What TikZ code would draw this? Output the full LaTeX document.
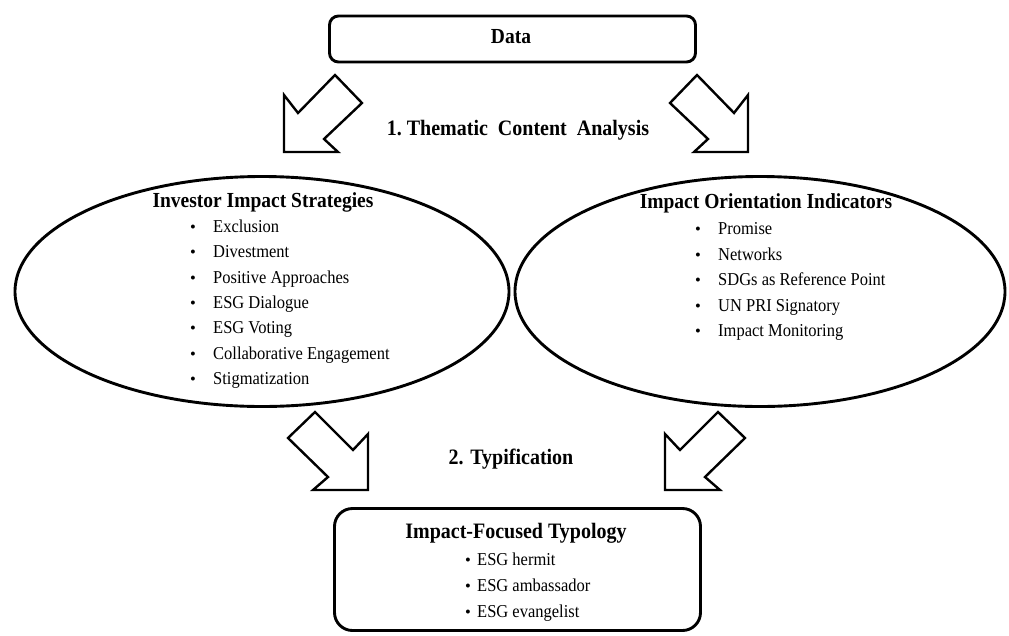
\documentclass[tikz,border=0pt]{standalone}
\usepackage{fontspec}
\setmainfont{Liberation Serif}
\usetikzlibrary{shapes.geometric}
\newcommand{\vstr}[1]{\scalebox{1}[1.1]{#1}}
\begin{document}
\begin{tikzpicture}[x=1pt,y=-1pt,
  ttl/.style={font=\fontsize{19.5}{22}\selectfont\bfseries, inner sep=0pt, anchor=base},
  itm/.style={font=\fontsize{16.5}{19}\selectfont, inner sep=0pt, anchor=base west},
  bul/.style={font=\fontsize{16.5}{19}\selectfont, inner sep=0pt, anchor=base},
  frame/.style={draw, line width=2.9pt, inner sep=0pt},
  blk/.style={draw, line width=2.4pt, line join=miter, fill=white}]
\useasboundingbox (0,0) rectangle (1009,635);

% boxes and ellipses
\node[frame, rounded corners=9pt, minimum width=366pt, minimum height=46pt] (data) at (512.5,39) {};
\node[frame, ellipse, minimum width=494pt, minimum height=230pt] (left) at (262,291.5) {};
\node[frame, ellipse, minimum width=490pt, minimum height=230pt] (right) at (760,291.5) {};
\node[frame, rounded corners=18pt, minimum width=366pt, minimum height=122pt] (typo) at (517.5,569.5) {};

% block arrows
\draw[blk] (335,75) -- (362,103) -- (324,139) -- (338,152) -- (284,152) -- (284,95) -- (298,113) -- cycle;
\draw[blk] (697,75) -- (670,103) -- (708,139) -- (694,152) -- (748,152) -- (748,95) -- (734,113) -- cycle;
\draw[blk] (315,412) -- (288,438) -- (328,477) -- (313,490) -- (368,490) -- (368,434) -- (353,450) -- cycle;
\draw[blk] (718,412) -- (745,438) -- (705,477) -- (720,490) -- (665,490) -- (665,434) -- (680,450) -- cycle;

% texts
\node[ttl] (tdata) at (511,43) {\vstr{Data}};
\node[ttl, font=\fontsize{20}{22}\selectfont\bfseries] (step1) at (518,135) {\vstr{1.\ Thematic\ \ Content\ \ Analysis}};
\node[ttl, font=\fontsize{20}{22}\selectfont\bfseries] (step2) at (511,464.5) {\vstr{2. Typification}};
\node[ttl] (tleft) at (263,207) {\vstr{Investor Impact Strategies}};
\node[ttl] (tright) at (766,208) {\vstr{Impact Orientation Indicators}};
\node[ttl, font=\fontsize{20}{22}\selectfont\bfseries] (ttypo) at (516,538.5) {\vstr{Impact-Focused Typology}};

\foreach \t [count=\i] in {Exclusion,Divestment,Positive Approaches,ESG Dialogue,ESG Voting,Collaborative Engagement,Stigmatization}{
  \node[bul] (lb\i) at (193,{232.5+25.3*(\i-1)}) {•};
  \node[itm] (li\i) at (213,{232.5+25.3*(\i-1)}) {\vstr{\t}};
}
\foreach \t [count=\i] in {Promise,Networks,SDGs as Reference Point,UN PRI Signatory,Impact Monitoring}{
  \node[bul] (rb\i) at (698,{234.5+25.5*(\i-1)}) {•};
  \node[itm] (ri\i) at (718,{234.5+25.5*(\i-1)}) {\vstr{\t}};
}
\foreach \t [count=\i] in {ESG hermit,ESG ambassador,ESG evangelist}{
  \node[bul] (bb\i) at (468,{565.5+26*(\i-1)}) {•};
  \node[itm] (bi\i) at (477,{565.5+26*(\i-1)}) {\vstr{\t}};
}
\end{tikzpicture}
\end{document}
